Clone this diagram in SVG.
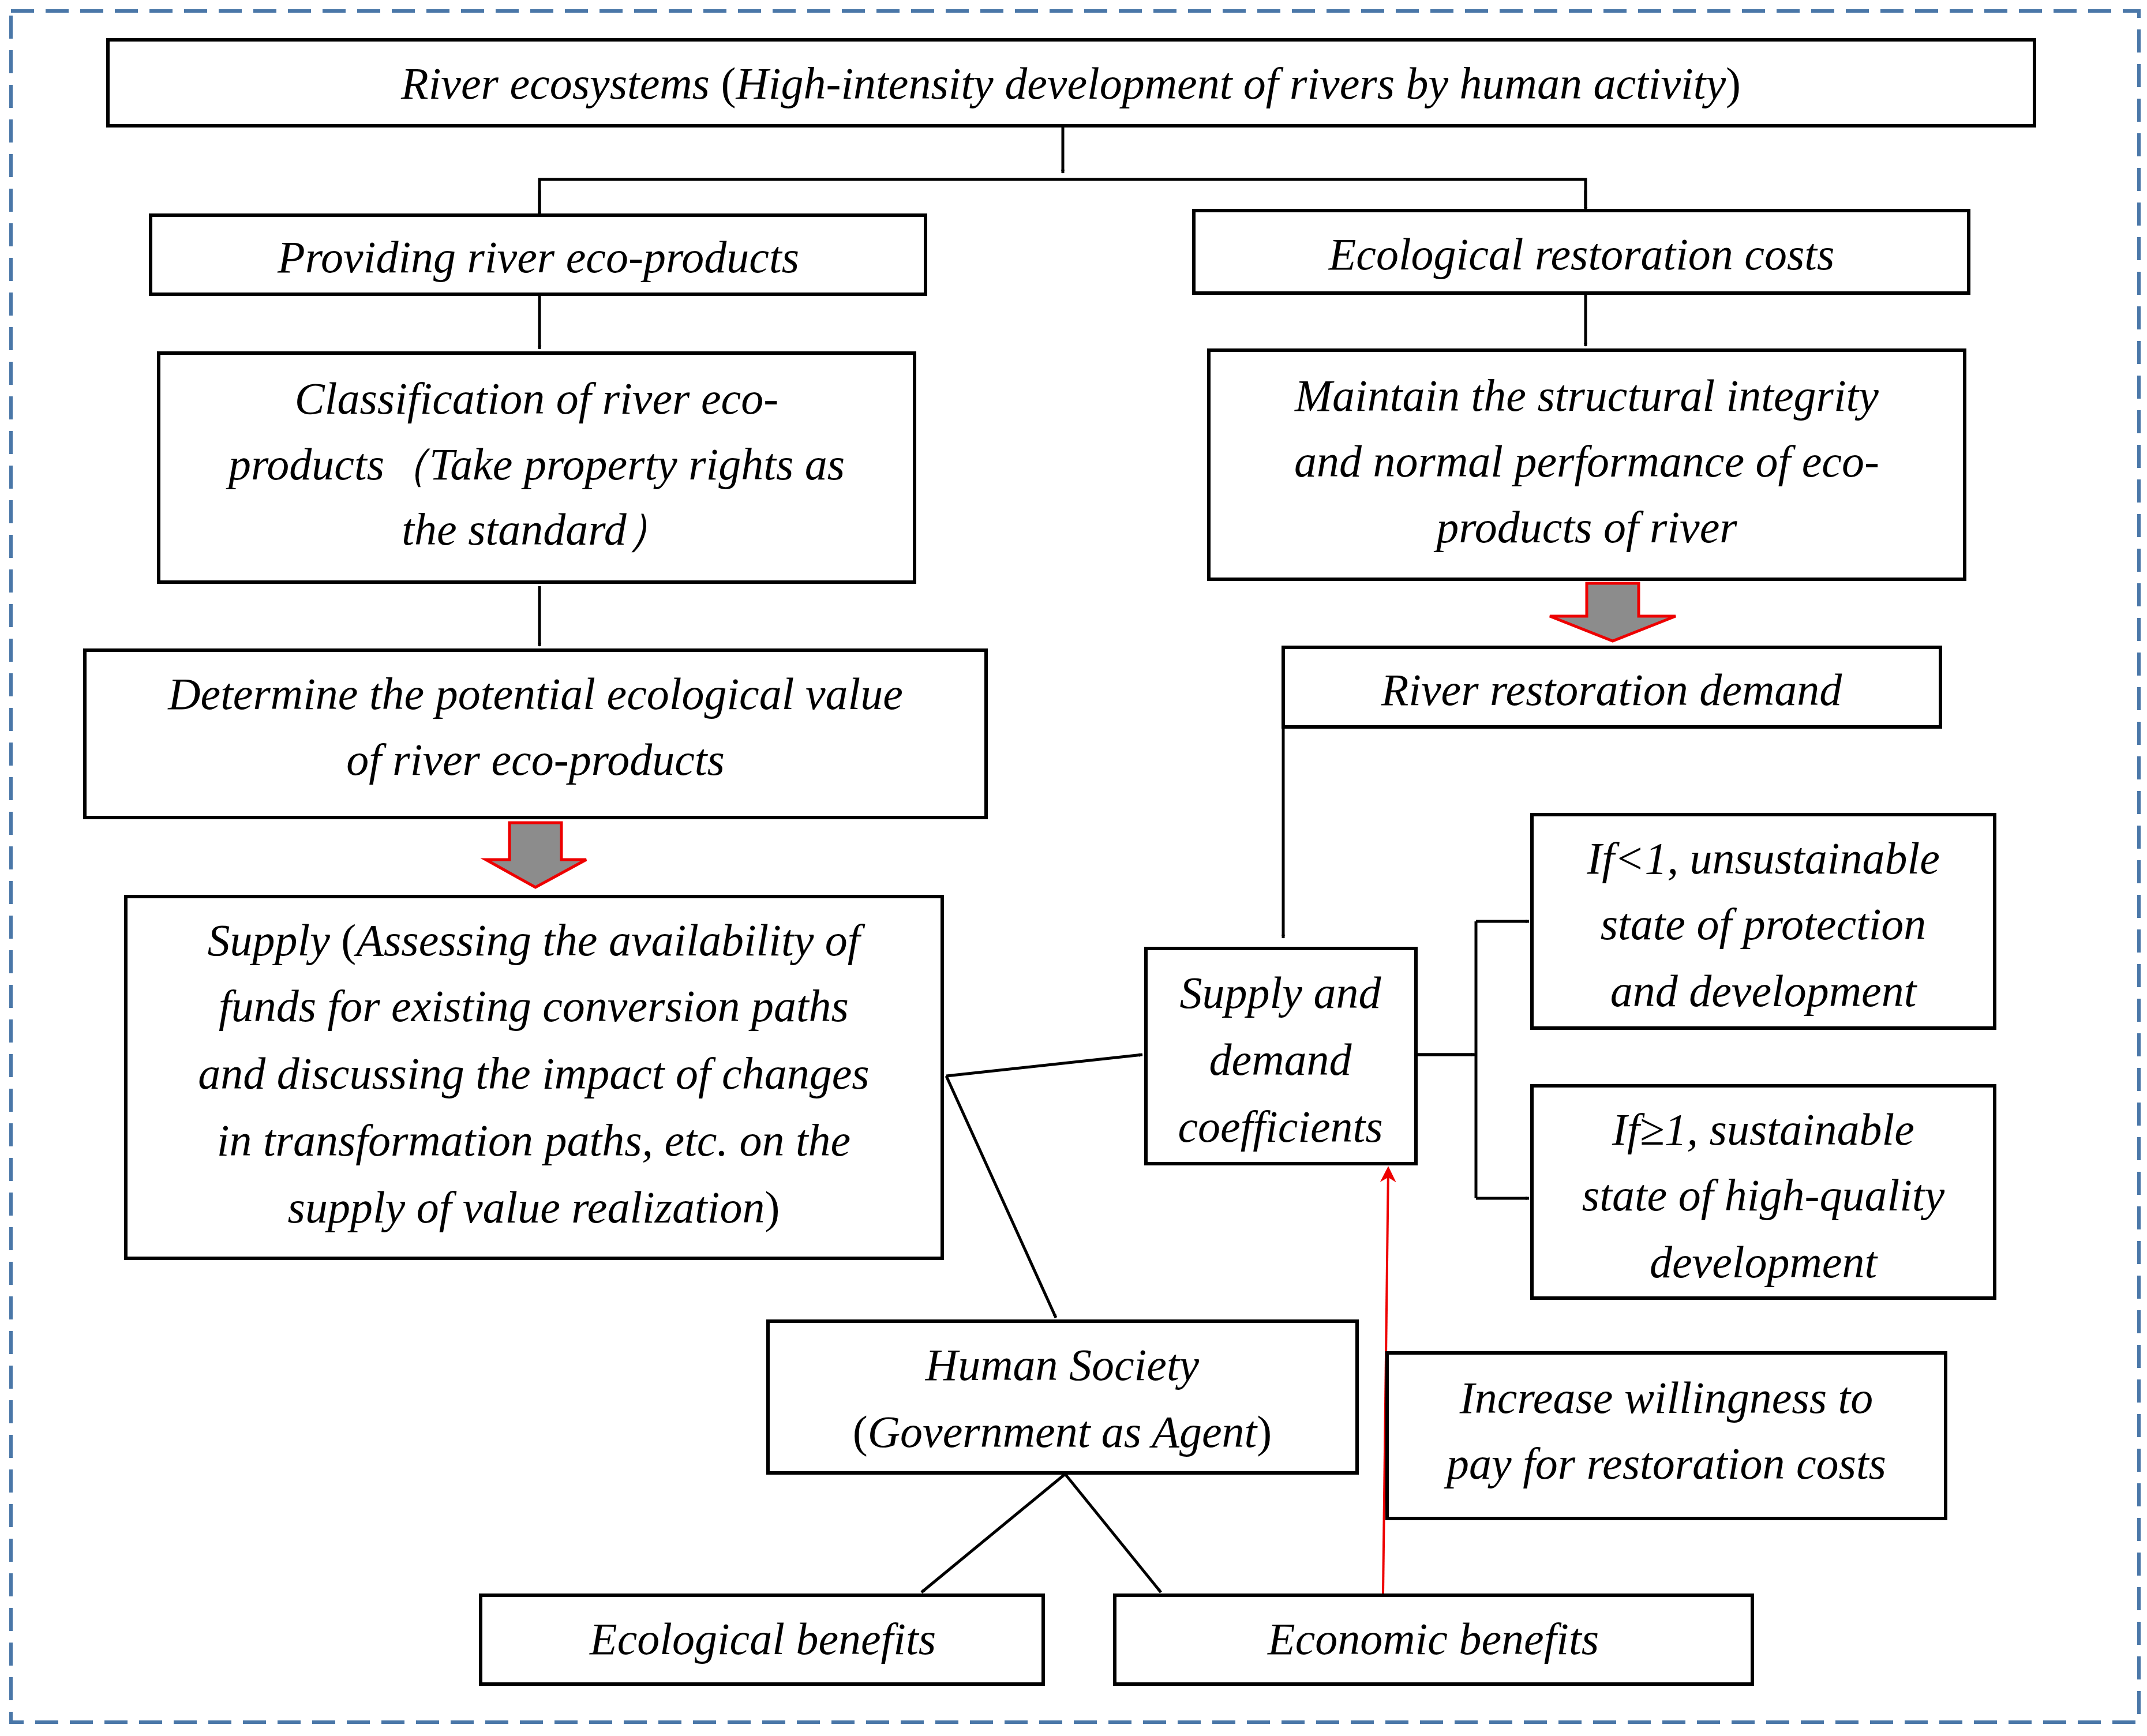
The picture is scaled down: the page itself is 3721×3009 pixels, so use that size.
<svg xmlns="http://www.w3.org/2000/svg" width="3721" height="3009" viewBox="0 0 3721 3009">
<style>
.b{fill:#fff;stroke:#000;stroke-width:6}
.t{font-family:"Liberation Serif",serif;font-style:italic;font-size:78px;text-anchor:middle;fill:#000}
.n{font-style:normal}
.c{fill:none;stroke:#000;stroke-width:5}
.r{fill:none;stroke:#e00;stroke-width:4}
.ba{fill:#8c8c8c;stroke:#e00;stroke-width:5}
</style>
<defs>
<marker id="a" viewBox="0 0 10 10" refX="9" refY="5" markerWidth="7" markerHeight="7" markerUnits="userSpaceOnUse" orient="auto"><path d="M0,0L10,5L0,10L3,5z" fill="#000" transform="scale(1)"/></marker>
<marker id="ar" viewBox="0 0 10 10" refX="9" refY="5" markerWidth="7" markerHeight="7" orient="auto"><path d="M0,0L10,5L0,10L3,5z" fill="#e00"/></marker>
</defs>
<rect x="19" y="19" width="3688" height="2966" fill="#fff" stroke="#4a77a8" stroke-width="6" stroke-dasharray="40,20"/>
<g id="connectors">
<path class="c" d="M1842,218V300" marker-end="url(#a)"/>
<path class="c" d="M935,373V311H2748V358"/>
<path class="c" d="M935,330V373" marker-end="url(#a)"/>
<path class="c" d="M2748,330V365" marker-end="url(#a)"/>
<path class="c" d="M935,510V605" marker-end="url(#a)"/>
<path class="c" d="M2748,508V600" marker-end="url(#a)"/>
<path class="c" d="M935,1016V1120" marker-end="url(#a)"/>
<path class="c" d="M2224,1260V1626" marker-end="url(#a)"/>
<path class="c" d="M2454,1828H2558"/>
<path class="c" d="M2558,1597V2077"/>
<path class="c" d="M2558,1597H2650" marker-end="url(#a)"/>
<path class="c" d="M2558,2077H2650" marker-end="url(#a)"/>
<path class="c" d="M2454,1828H2555" marker-end="url(#a)"/>
<path class="c" d="M1640,1865L1980,1828" marker-end="url(#a)"/>
<path class="c" d="M1640,1865L1830,2284" marker-end="url(#a)"/>
<path class="c" d="M1846,2555L1597,2760" marker-end="url(#a)"/>
<path class="c" d="M1846,2555L2012,2760" marker-end="url(#a)"/>
<path class="r" d="M2397,2762L2406,2024" marker-end="url(#ar)"/>
<polygon class="ba" points="883,1426 973,1426 973,1490 1016,1490 928,1538 842,1490 883,1490"/>
<polygon class="ba" points="2750,1011 2840,1011 2840,1068 2904,1068 2795,1111 2686,1068 2750,1068"/>
</g>
<g id="top"><rect class="b" x="187" y="69" width="3339" height="149"/><text class="t" x="1856" y="171">River ecosystems <tspan class="n">(</tspan>High-intensity development of rivers by human activity<tspan class="n">)</tspan></text></g>
<g id="providing"><rect class="b" x="261" y="373" width="1343" height="137"/><text class="t" x="933" y="472">Providing river eco-products</text></g>
<g id="costs"><rect class="b" x="2069" y="365" width="1343" height="143"/><text class="t" x="2741" y="467">Ecological restoration costs</text></g>
<g id="classification"><rect class="b" x="275" y="612" width="1310" height="397"/><text class="t" x="930" y="717">Classification of river eco-</text><text class="t" x="930" y="831">products（Take property rights as</text><text class="t" x="930" y="944">the standard）</text></g>
<g id="maintain"><rect class="b" x="2095" y="607" width="1310" height="397"/><text class="t" x="2750" y="712">Maintain the structural integrity</text><text class="t" x="2750" y="826">and normal performance of eco-</text><text class="t" x="2750" y="940">products of river</text></g>
<g id="determine"><rect class="b" x="147" y="1127" width="1562" height="290"/><text class="t" x="928" y="1229">Determine the potential ecological value</text><text class="t" x="928" y="1343">of river eco-products</text></g>
<g id="supply"><rect class="b" x="218" y="1554" width="1415" height="627"/><text class="t" x="925" y="1656">Supply <tspan class="n">(</tspan>Assessing the availability of</text><text class="t" x="925" y="1770">funds for existing conversion paths</text><text class="t" x="925" y="1887">and discussing the impact of changes</text><text class="t" x="925" y="2003">in transformation paths, etc. on the</text><text class="t" x="925" y="2119">supply of value realization<tspan class="n">)</tspan></text></g>
<g id="demand"><rect class="b" x="2224" y="1122" width="1139" height="138"/><text class="t" x="2793" y="1222">River restoration demand</text></g>
<g id="coef"><rect class="b" x="1986" y="1644" width="468" height="373"/><text class="t" x="2219" y="1747">Supply and</text><text class="t" x="2219" y="1863">demand</text><text class="t" x="2219" y="1979">coefficients</text></g>
<g id="lt1"><rect class="b" x="2655" y="1412" width="802" height="370"/><text class="t" x="3056" y="1514">If&lt;1, unsustainable</text><text class="t" x="3056" y="1628">state of protection</text><text class="t" x="3056" y="1744">and development</text></g>
<g id="ge1"><rect class="b" x="2655" y="1882" width="802" height="368"/><text class="t" x="3056" y="1984">If≥1, sustainable</text><text class="t" x="3056" y="2098">state of high-quality</text><text class="t" x="3056" y="2214">development</text></g>
<g id="human"><rect class="b" x="1331" y="2290" width="1021" height="263"/><text class="t" x="1841" y="2392">Human Society</text><text class="t" x="1841" y="2508"><tspan class="n">(</tspan>Government as Agent<tspan class="n">)</tspan></text></g>
<g id="increase"><rect class="b" x="2404" y="2345" width="968" height="287"/><text class="t" x="2888" y="2449">Increase willingness to</text><text class="t" x="2888" y="2563">pay for restoration costs</text></g>
<g id="eco"><rect class="b" x="833" y="2765" width="975" height="154"/><text class="t" x="1322" y="2867">Ecological benefits</text></g>
<g id="econ"><rect class="b" x="1932" y="2765" width="1105" height="154"/><text class="t" x="2484" y="2867">Economic benefits</text></g>
</svg>
